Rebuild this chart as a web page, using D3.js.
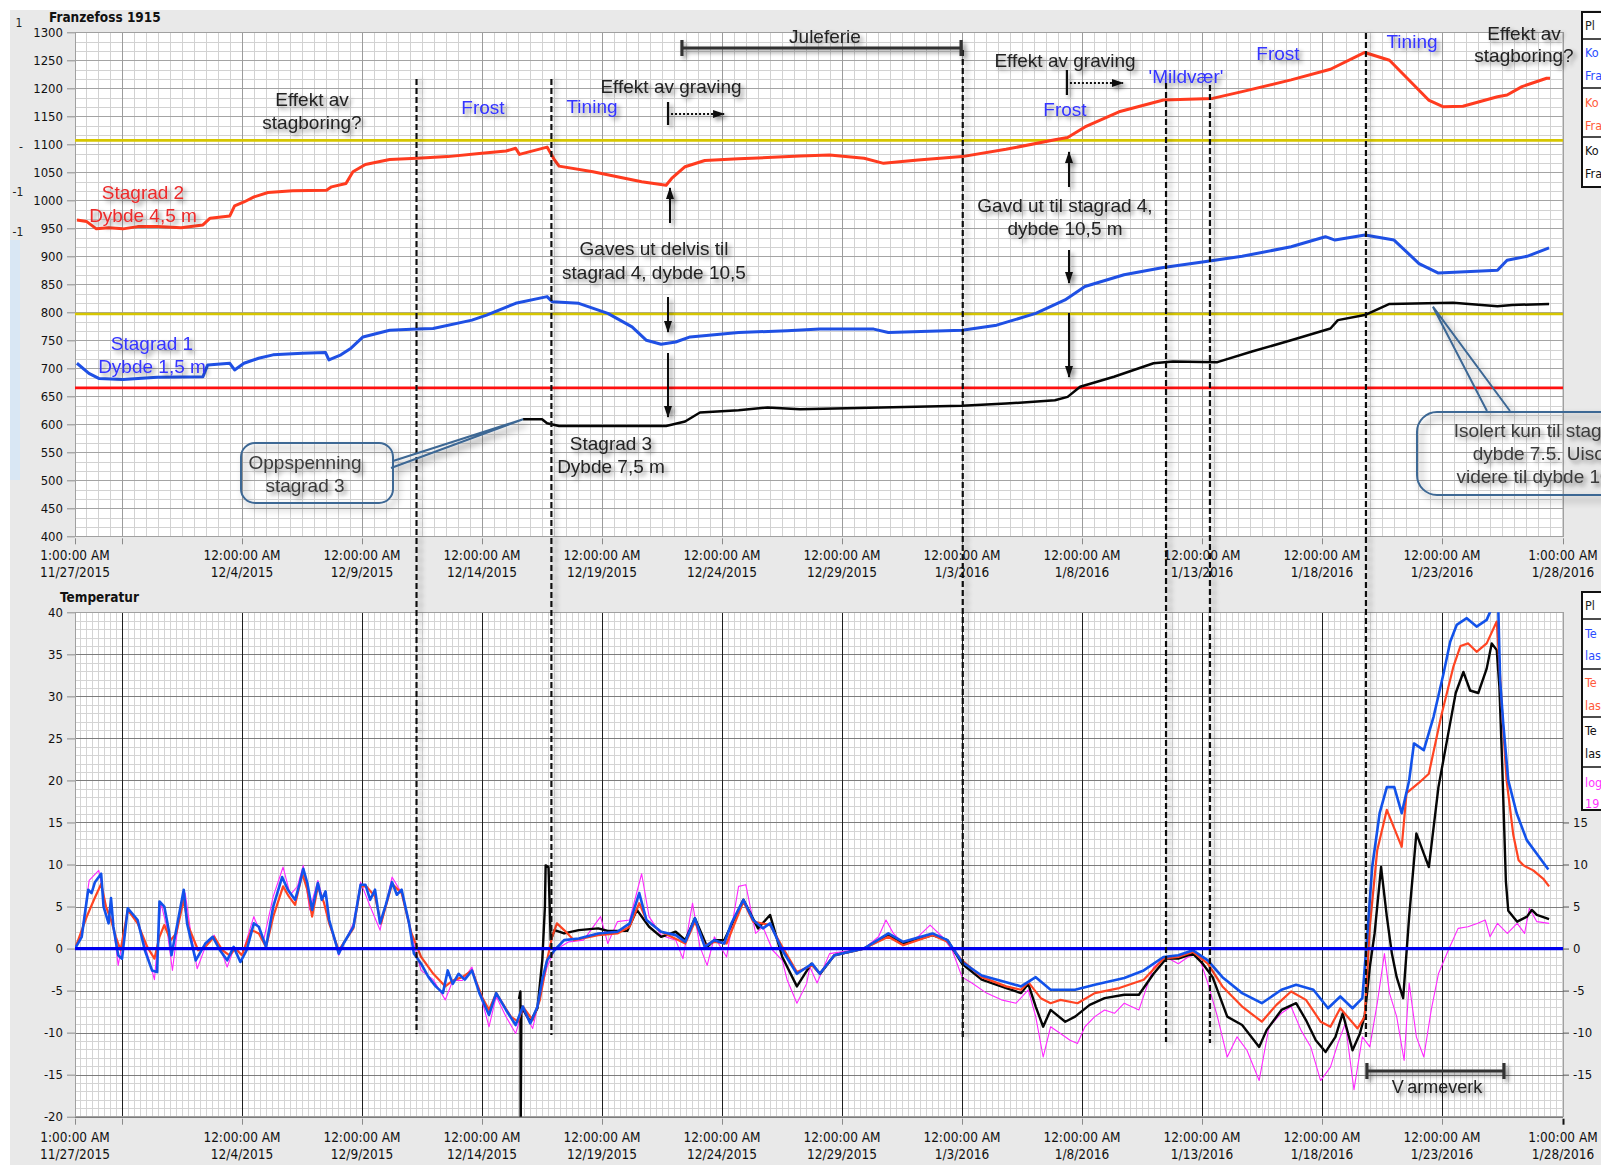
<!DOCTYPE html>
<html>
<head>
<meta charset="utf-8">
<title>Franzefoss 1915</title>
<script src="https://cdn.jsdelivr.net/npm/d3@7"></script>
<style>
  html, body { margin: 0; padding: 0; background: #ffffff; }
  svg { display: block; }
  .ui { font-family: "DejaVu Sans Condensed", "DejaVu Sans", sans-serif; font-stretch: condensed; }
  .note { font-family: "Liberation Sans", Arial, sans-serif; font-size: 19px; }
</style>
</head>
<body>
<svg id="chart" width="1601" height="1165"></svg>
<script>
// ---------------- data ----------------
const startTime = "2015-11-27T01:00";
const endTime   = "2016-01-28T01:00";
const tickTimes = ["2015-11-27T01:00", "2015-11-29T00:00", "2015-12-04T00:00", "2015-12-09T00:00",
  "2015-12-14T00:00", "2015-12-19T00:00", "2015-12-24T00:00", "2015-12-29T00:00", "2016-01-03T00:00",
  "2016-01-08T00:00", "2016-01-13T00:00", "2016-01-18T00:00", "2016-01-23T00:00", "2016-01-28T01:00"];

// anchor force, [days since start, value]
const stagrad2 = [[0.08,965],[0.49,962],[0.89,949],[1.40,951],[2.00,949],[2.61,953],[3.42,953],[4.42,951],
  [5.33,956],[5.63,968],[6.45,972],[6.65,990],[7.04,997],[7.46,1006],[8.04,1014],[9.07,1017],[10.48,1018],
  [10.69,1024],[11.29,1030],[11.58,1051],[12.10,1064],[13.11,1073],[14.25,1075],[15.53,1078],[16.95,1084],
  [17.96,1088],[18.36,1093],[18.52,1082],[19.67,1095],[19.98,1072],[20.17,1061],[21.58,1051],[23.61,1033],
  [24.63,1027],[24.86,1039],[25.42,1060],[26.24,1071],[27.65,1074],[30.21,1079],[31.44,1081],[32.88,1075],
  [33.69,1066],[35.13,1072],[36.96,1078],[38.79,1091],[40.83,1108],[41.36,1112],[42.08,1131],[43.50,1158],
  [45.35,1179],[47.40,1182],[48.63,1194],[50.67,1215],[52.31,1234],[53.74,1264],[54.77,1250],[56.40,1179],
  [57.02,1167],[57.83,1168],[59.27,1185],[59.67,1188],[60.29,1203],[61.32,1218],[61.46,1218]];
const stagrad1 = [[0.08,709],[0.58,691],[0.99,682],[2.00,680],[3.42,684],[5.33,685],[5.53,706],[6.45,709],
  [6.65,697],[7.04,709],[7.65,718],[8.25,724],[9.48,727],[10.44,728],[10.58,715],[11.08,724],[11.50,736],
  [12.00,756],[13.11,768],[14.25,770],[14.92,771],[16.54,786],[17.15,795],[18.36,816],[19.67,828],[19.88,819],
  [20.99,816],[22.20,798],[23.21,774],[23.81,750],[24.42,743],[25.03,747],[25.63,756],[27.65,764],[29.67,767],
  [31.04,770],[33.28,770],[33.89,764],[36.96,768],[38.40,777],[40.03,798],[41.25,822],[42.08,846],[43.71,867],
  [45.35,880],[47.20,891],[48.63,900],[50.67,917],[52.10,935],[52.50,929],[53.75,938],[54.96,929],[56.00,887],
  [56.81,870],[59.27,875],[59.67,893],[60.50,900],[61.42,915]];
const stagrad3 = [[18.67,609],[19.46,609],[19.67,602],[20.17,597],[24.63,597],[25.42,605],[26.04,621],
  [27.65,625],[28.86,630],[30.21,627],[36.96,633],[38.79,637],[40.83,643],[41.36,649],[41.88,667],[43.29,685],
  [44.94,709],[45.75,712],[47.60,711],[49.04,730],[50.67,750],[52.31,771],[52.62,786],[53.74,795],[54.77,815],
  [57.42,817],[59.27,811],[59.88,813],[61.42,815]];
const limitLevels = [1107, 797, 665];

// temperatures, [days since start, degrees C]
const tempBlue = [[0.00,0.0],[0.28,1.4],[0.55,7.0],[0.69,6.6],[0.83,7.9],[1.09,8.9],[1.19,5.0],[1.40,3.0],
  [1.50,6.0],[1.60,2.6],[1.80,-0.8],[1.96,-1.2],[2.20,4.8],[2.61,3.4],[2.91,-0.2],[3.21,-2.6],[3.42,-2.8],
  [3.52,5.6],[3.72,5.0],[3.92,2.0],[4.02,-0.8],[4.32,3.8],[4.53,7.0],[4.67,3.0],[5.03,-1.4],[5.43,0.6],
  [5.74,1.4],[6.04,-0.2],[6.34,-1.4],[6.61,0.2],[6.89,-1.6],[7.15,-0.2],[7.45,3.0],[7.66,2.6],[7.96,0.2],
  [8.26,5.0],[8.63,8.5],[8.87,7.0],[9.17,5.8],[9.37,7.8],[9.51,9.5],[9.68,7.8],[9.88,4.6],[10.12,7.8],
  [10.28,5.8],[10.44,6.8],[10.59,3.4],[10.99,-0.6],[11.19,0.6],[11.60,2.6],[11.90,7.6],[12.10,7.6],[12.30,5.8],
  [12.50,7.0],[12.71,3.0],[12.95,5.2],[13.21,7.9],[13.41,6.4],[13.61,7.0],[13.92,3.0],[14.12,-0.6],[14.42,-1.8],
  [14.73,-3.4],[15.03,-4.5],[15.33,-5.3],[15.53,-2.6],[15.74,-4.2],[15.98,-3.0],[16.24,-3.7],[16.54,-2.6],
  [16.85,-5.3],[17.25,-7.9],[17.55,-5.3],[17.96,-7.3],[18.36,-9.1],[18.66,-6.9],[18.97,-8.9],[19.27,-6.9],
  [19.47,-3.7],[19.67,-1.4],[19.98,-0.2],[20.38,1.0],[20.99,1.2],[21.80,1.8],[22.60,2.0],[23.11,3.0],
  [23.51,6.6],[23.81,3.4],[24.42,2.0],[25.03,1.6],[25.43,0.8],[25.83,3.6],[26.24,0.2],[26.64,1.0],[27.05,0.6],
  [27.35,3.0],[27.85,5.8],[28.26,3.4],[28.66,2.4],[28.96,3.0],[29.47,-0.2],[30.08,-3.0],[30.72,-1.8],
  [31.03,-3.0],[31.64,-0.8],[32.87,0.0],[33.89,1.8],[34.51,0.8],[35.73,1.8],[36.35,1.0],[36.96,-1.6],
  [37.78,-3.2],[38.80,-4.0],[39.42,-4.5],[40.03,-3.4],[40.65,-4.9],[41.67,-4.9],[42.49,-4.3],[43.72,-3.5],
  [44.53,-2.6],[45.35,-1.0],[45.97,-0.8],[46.58,-0.2],[47.20,-1.4],[47.81,-3.4],[48.63,-5.3],[49.45,-6.5],
  [50.27,-4.9],[50.88,-4.3],[51.60,-4.9],[52.21,-7.1],[52.72,-5.7],[53.23,-7.1],[53.64,-5.9],[53.85,1.8],
  [54.05,9.7],[54.36,16.1],[54.66,19.2],[54.97,19.2],[55.28,16.1],[55.59,20.0],[55.79,24.4],[56.20,23.6],
  [56.61,27.6],[57.02,32.7],[57.30,36.5],[57.57,38.5],[57.99,39.3],[58.40,38.3],[58.82,39.1],[59.03,40.5],
  [59.20,43.0],[59.29,42.0],[59.38,31.9],[59.51,26.8],[59.72,20.0],[60.07,16.1],[60.49,12.9],[60.90,11.3],
  [61.39,9.4]];
const tempRed = [[0.00,0.0],[0.49,3.8],[0.79,5.8],[1.09,7.7],[1.29,5.0],[1.50,3.4],[1.70,1.4],[1.90,-0.2],
  [2.20,4.6],[2.61,3.0],[3.01,0.2],[3.31,-1.2],[3.52,1.4],[3.72,2.8],[3.98,1.0],[4.22,1.8],[4.53,5.8],
  [4.73,2.6],[5.13,-0.2],[5.43,0.2],[5.80,1.4],[6.14,-0.2],[6.44,-0.8],[6.69,0.0],[6.95,-0.8],[7.35,2.2],
  [7.66,1.8],[7.96,0.2],[8.26,3.8],[8.67,7.4],[8.91,6.2],[9.17,5.2],[9.47,8.9],[9.68,7.0],[9.88,3.8],
  [10.12,7.4],[10.38,5.4],[10.59,3.0],[10.99,-0.2],[11.60,2.4],[11.90,7.4],[12.14,7.4],[12.50,6.2],[12.75,3.0],
  [13.21,7.7],[13.61,6.6],[14.02,1.8],[14.42,-1.0],[14.93,-3.0],[15.43,-4.5],[15.74,-3.8],[16.14,-3.4],
  [16.54,-2.6],[16.95,-5.7],[17.25,-7.3],[17.55,-5.3],[18.16,-8.1],[18.46,-8.7],[18.66,-6.9],[19.07,-8.5],
  [19.37,-6.1],[19.67,-1.4],[19.88,1.4],[20.08,3.0],[20.38,2.2],[20.79,1.0],[21.80,1.6],[22.60,1.8],
  [23.11,2.6],[23.51,5.4],[23.81,3.4],[24.42,2.0],[25.43,0.6],[25.83,3.2],[26.24,0.4],[26.64,0.8],[27.15,0.6],
  [27.85,5.6],[28.26,3.2],[28.96,2.8],[29.47,0.2],[30.08,-2.8],[30.72,-2.0],[31.03,-3.0],[31.64,-0.8],
  [32.87,0.0],[33.89,1.4],[34.51,0.4],[35.73,1.6],[36.35,0.8],[36.96,-1.4],[37.78,-3.4],[38.80,-4.5],
  [39.42,-4.9],[39.72,-4.0],[40.24,-5.9],[40.65,-6.5],[41.06,-6.1],[41.77,-6.5],[42.49,-5.3],[43.51,-4.7],
  [44.53,-3.7],[45.35,-1.2],[45.97,-1.0],[46.58,-0.4],[47.20,-1.8],[47.81,-4.5],[48.63,-6.9],[49.45,-8.7],
  [50.06,-6.7],[50.67,-5.1],[51.29,-6.1],[51.90,-8.7],[52.31,-9.3],[52.72,-7.1],[53.44,-9.5],[53.74,-8.1],
  [53.95,2.6],[54.26,11.7],[54.66,16.5],[55.28,12.1],[55.48,18.5],[55.99,19.7],[56.41,20.8],[56.92,27.6],
  [57.43,33.5],[57.73,36.0],[58.05,36.3],[58.40,35.3],[58.82,36.3],[59.24,38.9],[59.35,33.9],[59.45,28.8],
  [59.65,20.0],[59.93,13.5],[60.15,10.5],[60.35,9.9],[60.76,9.3],[61.18,8.3],[61.42,7.4]];
const tempBlack = [[18.50,-6.0],[18.56,-5.1],[18.57,-22.0],[18.60,-6.9],[18.97,-8.7],[19.27,-7.1],[19.47,-1.4],
  [19.58,5.0],[19.61,9.9],[19.73,9.7],[19.82,1.0],[19.98,2.2],[20.38,1.8],[20.99,2.2],[21.80,2.4],[22.20,2.1],
  [23.01,2.1],[23.41,4.6],[23.92,2.6],[24.42,1.4],[25.03,2.0],[25.43,1.0],[25.83,3.6],[26.34,0.2],[26.64,1.0],
  [27.05,1.0],[27.85,5.8],[28.46,2.4],[28.96,4.0],[29.47,-1.0],[30.08,-4.5],[30.68,-1.8],[31.05,-3.0],
  [31.64,-0.8],[32.87,0.0],[33.89,1.6],[34.51,0.6],[35.73,1.6],[36.35,1.0],[36.96,-1.8],[37.78,-3.7],
  [38.80,-4.7],[39.42,-5.3],[39.72,-4.2],[40.03,-6.9],[40.34,-9.3],[40.65,-7.3],[41.26,-8.7],[41.67,-8.1],
  [42.28,-6.7],[42.90,-5.9],[43.72,-5.5],[44.33,-5.5],[44.94,-3.0],[45.46,-1.2],[45.97,-1.2],[46.58,-0.6],
  [46.99,-1.8],[47.40,-3.4],[48.01,-8.1],[48.63,-9.1],[49.34,-11.7],[49.65,-9.7],[50.27,-7.3],[50.88,-6.5],
  [51.29,-8.5],[51.70,-10.9],[52.11,-12.3],[52.52,-10.5],[52.82,-7.7],[53.23,-12.1],[53.54,-10.1],[53.74,-7.9],
  [53.95,-2.2],[54.15,1.8],[54.42,9.7],[54.66,3.8],[54.87,-0.6],[55.07,-3.4],[55.34,-5.9],[55.59,3.8],
  [55.89,13.7],[56.20,11.3],[56.41,9.7],[56.81,19.2],[57.22,25.6],[57.53,30.4],[57.85,32.9],[58.13,30.7],
  [58.47,30.4],[58.82,33.3],[59.03,36.3],[59.24,35.5],[59.35,31.1],[59.47,21.6],[59.62,8.0],[59.72,4.5],
  [60.09,3.2],[60.50,3.8],[60.70,4.6],[60.91,4.0],[61.42,3.5]];
const tempMagenta = [[0.00,0.0],[0.28,1.8],[0.59,8.1],[0.99,9.3],[1.29,5.0],[1.60,2.6],[1.80,-2.0],[2.20,4.4],
  [2.61,3.4],[2.97,-0.2],[3.31,-3.7],[3.58,5.4],[3.82,2.6],[4.06,-2.6],[4.32,3.4],[4.59,6.6],[4.83,1.8],
  [5.09,-2.4],[5.43,0.2],[5.80,1.6],[6.14,-0.6],[6.34,-2.2],[6.65,0.2],[6.95,-0.8],[7.45,3.8],[7.86,1.0],
  [8.26,6.2],[8.67,9.7],[8.97,6.4],[9.27,7.4],[9.51,9.9],[9.78,4.6],[10.12,8.1],[10.48,4.2],[10.99,-0.8],
  [11.60,3.0],[11.90,7.9],[12.30,5.0],[12.71,2.2],[13.21,8.5],[13.61,6.6],[14.02,1.6],[14.42,-2.6],[14.93,-3.7],
  [15.43,-6.1],[15.74,-3.8],[16.14,-3.8],[16.54,-2.2],[16.95,-6.1],[17.25,-9.3],[17.55,-5.7],[17.96,-8.1],
  [18.36,-10.1],[18.66,-7.3],[19.07,-9.5],[19.37,-5.7],[19.67,-2.2],[19.98,-0.2],[20.58,0.8],[21.19,1.0],
  [21.90,3.8],[22.20,0.6],[22.60,3.2],[23.11,3.4],[23.61,8.9],[23.92,3.8],[24.42,1.6],[25.03,1.0],[25.33,-1.2],
  [25.73,5.4],[26.04,0.2],[26.34,-2.0],[26.64,1.4],[27.15,-1.0],[27.65,7.4],[27.95,7.6],[28.36,1.8],[28.66,2.6],
  [29.07,-0.2],[29.47,-1.4],[29.67,-3.7],[30.08,-6.5],[30.48,-4.2],[30.62,-2.2],[30.92,-4.1],[31.44,-0.6],
  [32.87,0.0],[33.48,1.4],[33.79,3.4],[34.10,1.8],[34.51,0.6],[35.12,1.4],[35.63,2.8],[36.14,1.4],[36.55,-0.2],
  [36.96,-3.4],[37.37,-4.1],[37.98,-5.3],[38.60,-6.1],[39.21,-6.5],[39.72,-4.9],[40.03,-8.1],[40.34,-12.9],
  [40.65,-9.3],[41.06,-10.1],[41.46,-10.9],[41.77,-11.3],[42.08,-9.3],[42.49,-8.1],[42.90,-7.3],[43.31,-7.7],
  [43.72,-6.5],[44.33,-7.3],[44.94,-2.2],[45.46,-1.0],[45.97,-1.8],[46.38,-1.0],[46.79,-0.6],[47.20,-4.1],
  [47.60,-8.1],[48.01,-12.9],[48.42,-10.5],[48.83,-12.1],[49.34,-15.7],[49.75,-9.3],[50.27,-7.7],[50.67,-6.9],
  [51.08,-9.7],[51.49,-11.7],[51.90,-15.7],[52.31,-14.1],[52.62,-11.3],[52.93,-8.9],[53.29,-16.8],[53.64,-10.5],
  [53.95,-11.7],[54.26,-6.5],[54.56,-0.6],[54.77,-5.3],[55.07,-8.1],[55.38,-13.3],[55.59,-4.1],[55.89,-10.5],
  [56.20,-12.9],[56.51,-7.3],[56.81,-3.0],[57.22,-0.2],[57.63,2.4],[58.04,2.6],[58.45,3.0],[58.76,3.4],
  [58.96,1.4],[59.27,3.0],[59.68,1.8],[60.09,3.0],[60.40,1.8],[60.60,4.8],[60.91,3.2],[61.42,3.0]];

// events (days since start) and marked periods
const eventDays = [14.23, 19.85, 36.99, 45.46, 47.29, 53.79];
const juleferie = [25.29, 36.92];
const varmeverk = [53.83, 59.54];
const gravingDays = [24.71, 41.33];

const legendTop = ["Pl", "Ko", "Fra", "Ko", "Fra", "Ko", "Fra"];
const legendBottom = ["Pl", "Te", "las", "Te", "las", "Te", "las", "log", "19"];

// ---------------- scales ----------------
const parseT = d3.timeParse("%Y-%m-%dT%H:%M");
const t0 = parseT(startTime), t1 = parseT(endTime);
const ticks = tickTimes.map(parseT);
const at = d => new Date(+t0 + d * 864e5);

const L = 75, R = 1563;
const TT = 32.3, TB = 536.3, BT = 612.3, BB = 1116.7;
const x = d3.scaleTime().domain([t0, t1]).range([L, R]);
const yTop = d3.scaleLinear().domain([400, 1300]).range([TB, TT]);
const yBot = d3.scaleLinear().domain([-20, 40]).range([BB, BT]);

const svg = d3.select("#chart");
const defs = svg.append("defs");

function dropShadow(id, dx, dy, sd, op) {
  const f = defs.append("filter").attr("id", id).attr("filterUnits", "userSpaceOnUse")
    .attr("x", -100).attr("y", -100).attr("width", 1900).attr("height", 1400);
  f.append("feDropShadow").attr("dx", dx).attr("dy", dy).attr("stdDeviation", sd)
    .attr("flood-color", "#000").attr("flood-opacity", op);
}
dropShadow("txtShadow", 3, 3, 2, 0.45);
dropShadow("lineShadow", 4, 1, 2.5, 0.35);
dropShadow("boxShadow", 4, 5, 3.5, 0.4);

const head = defs.append("marker").attr("id", "arrowHead").attr("viewBox", "0 0 12 8")
  .attr("refX", 11).attr("refY", 4).attr("markerWidth", 12).attr("markerHeight", 8)
  .attr("markerUnits", "userSpaceOnUse").attr("orient", "auto");
head.append("path").attr("d", "M0,0 L12,4 L0,8 Z").attr("fill", "#111");

defs.append("clipPath").attr("id", "clipTop").append("rect")
  .attr("x", L).attr("y", TT).attr("width", R - L).attr("height", TB - TT);
defs.append("clipPath").attr("id", "clipBot").append("rect")
  .attr("x", L).attr("y", BT).attr("width", R - L).attr("height", BB - BT);

// ---------------- panels ----------------
svg.append("rect").attr("width", 1601).attr("height", 1165).attr("fill", "#ffffff");
svg.append("rect").attr("x", 10).attr("y", 10).attr("width", 1591).attr("height", 1155).attr("fill", "#e9e9e9");
svg.append("rect").attr("x", 10).attr("y", 240).attr("width", 10).attr("height", 240).attr("fill", "#d9e7f4");
const side = svg.append("g").attr("class", "ui").attr("font-size", 12).attr("fill", "#222");
[["1", 19, 27], ["-", 21, 151], ["-1", 18, 196], ["-1", 18, 236]].forEach(([s, xx, yy]) =>
  side.append("text").attr("x", xx).attr("y", yy).attr("text-anchor", "middle").text(s));

function px(v) { return Math.round(v) + 0.5; }

function plotFrame(top, bottom, yS, minorY, majorY, minorX, majorColorX, majorColorY, minorColor) {
  const g = svg.append("g").attr("shape-rendering", "crispEdges");
  g.append("rect").attr("x", L).attr("y", top).attr("width", R - L).attr("height", bottom - top).attr("fill", "#fff");
  minorX.forEach(t => { const v = px(x(t));
    g.append("line").attr("x1", v).attr("x2", v).attr("y1", top).attr("y2", bottom).attr("stroke", minorColor); });
  minorY.forEach(d => { const v = px(yS(d));
    g.append("line").attr("x1", L).attr("x2", R).attr("y1", v).attr("y2", v).attr("stroke", minorColor); });
  majorY.forEach(d => { const v = px(yS(d));
    g.append("line").attr("x1", L).attr("x2", R).attr("y1", v).attr("y2", v).attr("stroke", majorColorY); });
  ticks.slice(1, -1).forEach(t => { const v = px(x(t));
    g.append("line").attr("x1", v).attr("x2", v).attr("y1", top).attr("y2", bottom).attr("stroke", majorColorX); });
  g.append("rect").attr("x", px(L)).attr("y", px(top)).attr("width", Math.round(R - L))
    .attr("height", Math.round(bottom - top)).attr("fill", "none").attr("stroke", "#a0a0a0");
}

plotFrame(TT, TB, yTop, d3.range(400, 1300, 50 / 3), d3.range(400, 1301, 50),
  d3.timeHour.every(12).range(t0, t1), "#9c9c9c", "#a4a4a4", "#d2d2d2");
plotFrame(BT, BB, yBot, d3.range(-20, 41, 1), d3.range(-20, 41, 5),
  d3.timeHour.every(6).range(t0, t1), "#1e1e1e", "#7c7c7c", "#d4d4d4");

// ---------------- axes ----------------
function leftAxis(yS, values) {
  const g = svg.append("g").attr("class", "ui").attr("transform", `translate(${L},0)`)
    .call(d3.axisLeft(yS).tickValues(values).tickSize(8).tickPadding(4).tickFormat(d => String(d)));
  g.select(".domain").remove();
  g.selectAll(".tick line").attr("stroke", "#8a8a8a");
  g.selectAll(".tick text").attr("font-size", 13).attr("fill", "#111")
    .attr("font-family", "DejaVu Sans Condensed, DejaVu Sans, sans-serif");
}
leftAxis(yTop, d3.range(400, 1301, 50));
leftAxis(yBot, d3.range(-20, 41, 5));

const rightAx = svg.append("g").attr("class", "ui").attr("transform", `translate(${R},0)`)
  .call(d3.axisRight(yBot).tickValues(d3.range(-15, 16, 5)).tickSize(6).tickPadding(4).tickFormat(d => String(d)));
rightAx.select(".domain").remove();
rightAx.selectAll(".tick line").attr("stroke", "#555");
rightAx.selectAll(".tick text").attr("font-size", 13).attr("fill", "#111")
  .attr("font-family", "DejaVu Sans Condensed, DejaVu Sans, sans-serif");

const fmtTime = d3.timeFormat("%-I:%M:%S %p");
const fmtDate = d3.timeFormat("%-m/%-d/%Y");
function timeAxis(yAxis, base) {
  const g = svg.append("g").attr("class", "ui").attr("font-size", 13.5).attr("fill", "#111");
  let last = -1e9;
  ticks.forEach((t, i) => {
    const v = px(x(t));
    g.append("line").attr("x1", v).attr("x2", v).attr("y1", yAxis + 2).attr("y2", yAxis + 8)
      .attr("stroke", (i === ticks.length - 1 && base > 800) ? "#111" : "#8a8a8a")
      .attr("stroke-width", (i === ticks.length - 1 && base > 800) ? 2 : 1);
    if (x(t) - last > 100) {
      last = x(t);
      const tx = g.append("text").attr("text-anchor", "middle");
      tx.append("tspan").attr("x", x(t)).attr("y", base).text(fmtTime(t));
      tx.append("tspan").attr("x", x(t)).attr("y", base + 17).text(fmtDate(t));
    }
  });
}
timeAxis(TB, 559.5);
timeAxis(BB, 1141.5);

const titles = svg.append("g").attr("class", "ui").attr("font-weight", "bold").attr("font-size", 13.5).attr("fill", "#111");
titles.append("text").attr("x", 49).attr("y", 22).text("Franzefoss 1915");
titles.append("text").attr("x", 60).attr("y", 602).text("Temperatur");

// ---------------- series ----------------
const topG = svg.append("g").attr("clip-path", "url(#clipTop)");
const limitColors = ["#d6c600", "#d6c600", "#ff1010"];
limitLevels.forEach((lv, i) => topG.append("line").attr("x1", L).attr("x2", R)
  .attr("y1", yTop(lv)).attr("y2", yTop(lv)).attr("stroke", limitColors[i]).attr("stroke-width", 2.6));

const lineTop = d3.line().x(d => x(at(d[0]))).y(d => yTop(d[1]));
[[stagrad2, "#ff3b1f", 3], [stagrad1, "#1f50e4", 3], [stagrad3, "#050505", 2.5]].forEach(([data, c, w]) =>
  topG.append("path").datum(data).attr("d", lineTop).attr("fill", "none").attr("stroke", c)
    .attr("stroke-width", w).attr("stroke-linejoin", "round"));

const botG = svg.append("g").attr("clip-path", "url(#clipBot)");
const lineBot = d3.line().x(d => x(at(d[0]))).y(d => yBot(d[1]));
[[tempMagenta, "#ff28ff", 1.1], [tempBlack, "#050505", 2.4], [tempRed, "#ff4422", 2.2], [tempBlue, "#1252ea", 2.6]]
  .forEach(([data, c, w]) => botG.append("path").datum(data).attr("d", lineBot).attr("fill", "none")
    .attr("stroke", c).attr("stroke-width", w).attr("stroke-linejoin", "round"));
botG.append("line").attr("x1", L).attr("x2", R).attr("y1", yBot(0)).attr("y2", yBot(0))
  .attr("stroke", "#0000f0").attr("stroke-width", 3.2);

// ---------------- legends ----------------
function legendBox(top, bottom, items, colors, rowYs, seps) {
  const g = svg.append("g").attr("class", "ui").attr("font-size", 12.5);
  g.append("rect").attr("x", 1582).attr("y", top).attr("width", 80).attr("height", bottom - top)
    .attr("fill", "#fff").attr("stroke", "#111").attr("stroke-width", 2);
  seps.forEach(s => g.append("line").attr("x1", 1582).attr("x2", 1601).attr("y1", s).attr("y2", s)
    .attr("stroke", "#111").attr("stroke-width", 1.5));
  items.forEach((s, i) => g.append("text").attr("x", 1585).attr("y", rowYs[i] + 5).attr("fill", colors[i]).text(s));
}
legendBox(12, 187, legendTop, ["#222", "#2a4cff", "#2a4cff", "#ff5a3a", "#ff5a3a", "#111", "#111"],
  [25, 52, 75, 102, 125, 150, 173], [39, 88, 137]);
legendBox(592, 810, legendBottom, ["#222", "#2a4cff", "#2a4cff", "#ff5a3a", "#ff5a3a", "#111", "#111", "#ff33ff", "#ff33ff"],
  [605, 633, 655, 682, 705, 730, 753, 782, 803], [619, 669, 717, 767]);

// ---------------- event markers ----------------
const evG = svg.append("g").attr("filter", "url(#lineShadow)");
const eventSpans = [[79, 1034], [79, 1035], [50, 1040], [83, 1042], [85, 1043], [33, 1037]];
eventDays.forEach((d, i) => evG.append("line").attr("x1", x(at(d))).attr("x2", x(at(d)))
  .attr("y1", eventSpans[i][0]).attr("y2", eventSpans[i][1])
  .attr("stroke", "#111").attr("stroke-width", 2.2).attr("stroke-dasharray", "6,3"));

// ---------------- annotations ----------------
const annG = svg.append("g").attr("filter", "url(#txtShadow)");
function bar(range, y) {
  const a = x(at(range[0])), b = x(at(range[1]));
  annG.append("path").attr("d", `M${a},${y - 8}V${y + 8}M${a},${y}H${b}M${b},${y - 8}V${y + 8}`)
    .attr("stroke", "#333").attr("stroke-width", 3.2).attr("fill", "none");
}
bar(juleferie, 48);
bar(varmeverk, 1071);

function arrow(xx, ya, yb) {
  annG.append("line").attr("x1", xx).attr("x2", xx).attr("y1", ya).attr("y2", yb)
    .attr("stroke", "#111").attr("stroke-width", 2).attr("marker-end", "url(#arrowHead)");
}
arrow(670, 223, 188); arrow(668, 297, 332); arrow(668, 353, 417);
arrow(1069, 187, 152); arrow(1069, 250, 283); arrow(1069, 313, 377);

function dottedArrow(d, y0, y1, ym) {
  const xx = x(at(d));
  annG.append("line").attr("x1", xx).attr("x2", xx).attr("y1", y0).attr("y2", y1)
    .attr("stroke", "#111").attr("stroke-width", 2.2);
  annG.append("line").attr("x1", xx + 3).attr("x2", xx + 56).attr("y1", ym).attr("y2", ym)
    .attr("stroke", "#111").attr("stroke-width", 2).attr("stroke-dasharray", "2,2")
    .attr("marker-end", "url(#arrowHead)");
}
dottedArrow(gravingDays[0], 102, 125, 114);
dottedArrow(gravingDays[1], 70, 95, 83);

const noteG = annG.append("g").attr("class", "note");
function note(lines, cx, cy, color, lh) {
  const t = noteG.append("text").attr("text-anchor", "middle").attr("fill", color);
  lines.forEach((s, i) => t.append("tspan").attr("x", cx).attr("y", cy + 7 + i * (lh || 23)).text(s));
  return t;
}
const ink = "#222", blueInk = "#3434ff", redInk = "#ec2a2a";
note(["Effekt av", "stagboring?"], 312, 99, ink);
note(["Frost"], 483, 107, blueInk);
note(["Tining"], 592, 106, blueInk);
note(["Effekt av graving"], 671, 86, ink);
note(["Juleferie"], 825, 36, ink);
note(["Effekt av graving"], 1065, 60, ink);
note(["Frost"], 1065, 109, blueInk);
note(["'Mildvær'"], 1186, 76, blueInk);
note(["Frost"], 1278, 53, blueInk);
note(["Tining"], 1412, 41, blueInk);
note(["Effekt av", "stagboring?"], 1524, 33, ink, 22);
note(["Stagrad 2", "Dybde 4,5 m"], 143, 192, redInk);
note(["Stagrad 1", "Dybde 1,5 m"], 152, 343, blueInk);
note(["Gaves ut delvis til", "stagrad 4, dybde 10,5"], 654, 248, ink, 24);
note(["Gavd ut til stagrad 4,", "dybde 10,5 m"], 1065, 205, ink);
note(["Stagrad 3", "Dybde 7,5 m"], 611, 443, ink);
const vt = noteG.append("text").attr("text-anchor", "middle").attr("fill", ink).attr("font-size", 18)
  .attr("x", 1437).attr("y", 1093);
vt.append("tspan").text("V");
vt.append("tspan").attr("dx", 5).text("armeverk");

// callouts
const callG = svg.append("g").attr("filter", "url(#boxShadow)");
const tipA = [x(at(stagrad3[0][0])), yTop(stagrad3[0][1])];
callG.append("rect").attr("x", 241).attr("y", 443).attr("width", 152).attr("height", 60).attr("rx", 14)
  .attr("fill", "none").attr("stroke", "#3d6794").attr("stroke-width", 2);
callG.append("path").attr("d", `M393,461 L${tipA[0]},${tipA[1]} L391,468`)
  .attr("fill", "none").attr("stroke", "#3d6794").attr("stroke-width", 2);
const tipB = [x(at(56.58)), yTop(810)];
callG.append("rect").attr("x", 1417).attr("y", 412).attr("width", 280).attr("height", 83).attr("rx", 20)
  .attr("fill", "none").attr("stroke", "#3d6794").attr("stroke-width", 2);
callG.append("path").attr("d", `M1487,411 L${tipB[0]},${tipB[1]} L1510,411`)
  .attr("fill", "none").attr("stroke", "#3d6794").attr("stroke-width", 2);

const callTxt = svg.append("g").attr("class", "note").attr("filter", "url(#txtShadow)");
function callText(lines, cx, cy) {
  const t = callTxt.append("text").attr("text-anchor", "middle").attr("fill", "#3a3a3a");
  lines.forEach((s, i) => t.append("tspan").attr("x", cx).attr("y", cy + 7 + i * 23).text(s));
}
callText(["Oppspenning", "stagrad 3"], 305, 462);
callText(["Isolert kun til stagrad 3,", "dybde 7.5.  Uisolert", "videre til dybde 10,5 m"], 1552, 430);
</script>
</body>
</html>
